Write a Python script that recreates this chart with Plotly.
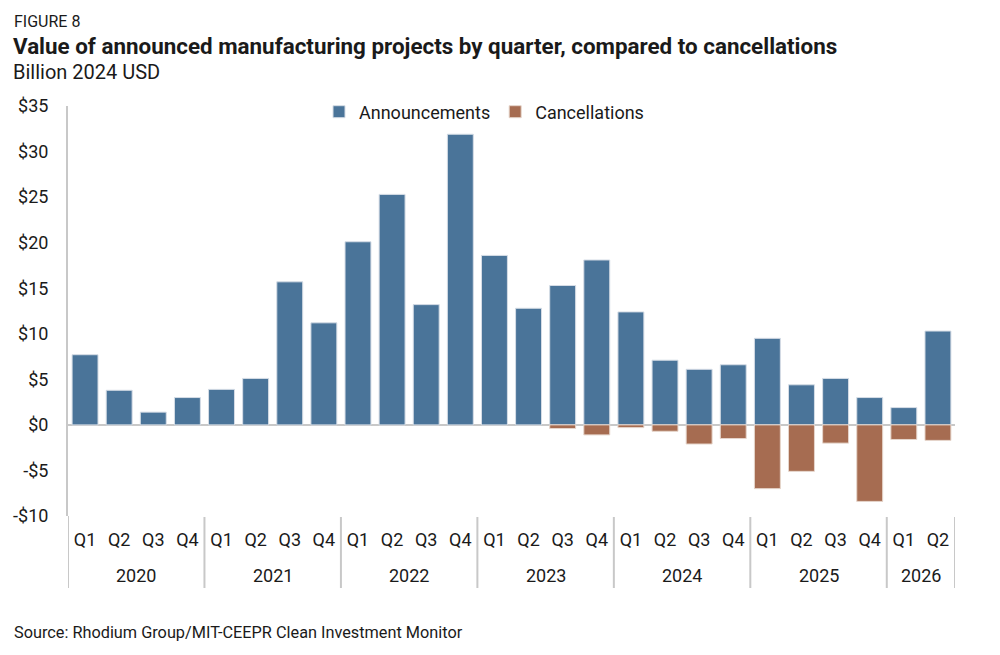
import plotly.graph_objects as go

years = ["2020", "2021", "2022", "2023", "2024", "2025", "2026"]
quarters_per_year = [4, 4, 4, 4, 4, 4, 2]
quarter_names = ["Q1", "Q2", "Q3", "Q4"]

announcements = [7.7, 3.8, 1.4, 3.0,
                 3.9, 5.1, 15.7, 11.2,
                 20.1, 25.3, 13.2, 31.9,
                 18.6, 12.8, 15.3, 18.1,
                 12.4, 7.1, 6.1, 6.6,
                 9.5, 4.4, 5.1, 3.0,
                 1.9, 10.3]
cancellations = [None, None, None, None,
                 None, None, None, None,
                 None, None, None, None,
                 None, None, -0.4, -1.1,
                 -0.3, -0.7, -2.1, -1.5,
                 -7.0, -5.1, -2.0, -8.4,
                 -1.6, -1.7]

y_tickvals = [-10, -5, 0, 5, 10, 15, 20, 25, 30, 35]
y_ticktext = ["-$10", "-$5", "$0", "$5", "$10", "$15", "$20", "$25", "$30", "$35"]

# category keys built from the arrays above
cats, qlabels = [], []
for yr, n in zip(years, quarters_per_year):
    for q in quarter_names[:n]:
        cats.append(f"{yr} {q}")
        qlabels.append(q)

BLUE = "#4a7499"
BROWN = "#a66c51"
GRID = "#c8c8c8"
TXT = "#1a1a1a"
FONT = "Roboto"

fig = go.Figure()
fig.add_trace(go.Bar(x=cats, y=announcements, name="Announcements",
                     marker=dict(color=BLUE, line=dict(color="#d6dde6", width=1))))
fig.add_trace(go.Bar(x=cats, y=cancellations, name="Cancellations",
                     marker=dict(color=BROWN, line=dict(color="#e6d6cc", width=1))))

L, R, T, B = 68, 45, 106, 139
W, H = 1000, 655
pw = W - L - R
ph = H - T - B

def px(xp):
    return (xp - L) / pw

def py(yp):
    return (H - B - yp) / ph

fig.update_layout(
    width=W, height=H,
    margin=dict(l=L, r=R, t=T, b=B),
    paper_bgcolor="white", plot_bgcolor="white",
    barmode="relative", bargap=0.24,
    font=dict(family=FONT, size=18, color=TXT),
    showlegend=True,
    legend=dict(orientation="h", x=px(484), y=py(112), xanchor="center", yanchor="middle",
                font=dict(size=18, color=TXT), bgcolor="rgba(0,0,0,0)",
                itemwidth=30, tracegroupgap=0),
    xaxis=dict(type="category", showgrid=False, showline=False, zeroline=False,
               ticks="", tickvals=cats, ticktext=qlabels, ticklabelstandoff=11,
               tickfont=dict(size=18, color=TXT), range=[-0.5, len(cats) - 0.5]),
    yaxis=dict(range=[-10, 35], tickvals=y_tickvals, ticktext=y_ticktext,
               showgrid=False, showline=True, linecolor=GRID, linewidth=2,
               zeroline=True, zerolinecolor=GRID, zerolinewidth=2,
               ticks="", ticklabelstandoff=14, layer="above traces",
               tickfont=dict(size=18, color=TXT)),
)

# year group labels and dividers, positioned on the category axis
start = 0
bounds = [-0.5]
for yr, n in zip(years, quarters_per_year):
    center = start + (n - 1) / 2
    fig.add_annotation(text=yr, x=center, y=py(575), xref="x", yref="paper",
                       xanchor="center", yanchor="middle", showarrow=False,
                       font=dict(family=FONT, size=18, color=TXT))
    start += n
    bounds.append(start - 0.5)
for b in bounds:
    fig.add_shape(type="line", xref="x", yref="paper", x0=b, x1=b,
                  y0=py(517), y1=py(588), line=dict(color=GRID, width=2))
# y-axis line continuing through the label band
fig.add_shape(type="line", xref="x", yref="paper", x0=-0.5, x1=-0.5,
              y0=0, y1=py(588), line=dict(color=GRID, width=2))

annos = [
    dict(text="FIGURE 8", x=px(12), y=py(21), size=16),
    dict(text="<b>Value of announced manufacturing projects by quarter, compared to cancellations</b>",
         x=px(11), y=py(46), size=22.4),
    dict(text="Billion 2024 USD", x=px(11), y=py(72), size=20),
    dict(text="Source: Rhodium Group/MIT-CEEPR Clean Investment Monitor", x=px(12), y=py(632), size=16.3),
]
for a in annos:
    fig.add_annotation(text=a["text"], x=a["x"], y=a["y"], xref="paper", yref="paper",
                       xanchor="left", yanchor="middle", showarrow=False,
                       font=dict(family=FONT, size=a["size"], color=TXT))

fig.write_html("out.html", config={"displayModeBar": False},
               post_script="document.body.style.margin='0';document.body.style.overflow='hidden';")
